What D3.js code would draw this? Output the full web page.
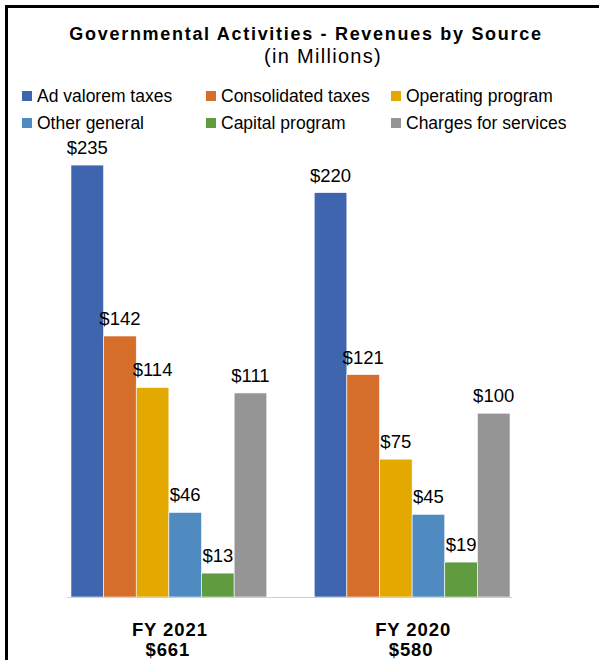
<!DOCTYPE html>
<html>
<head>
<meta charset="utf-8">
<script src="https://cdn.jsdelivr.net/npm/d3@7"></script>
<style>
  body { margin: 0; background: #fff; }
  svg { display: block; font-family: "Liberation Sans", Arial, sans-serif; }
</style>
</head>
<body>
<div id="chart"></div>
<script>
// data
let years = ["FY 2021", "FY 2020"];
let totals = ["$661", "$580"];
let sources = ["Ad valorem taxes", "Consolidated taxes", "Operating program",
               "Other general", "Capital program", "Charges for services"];
let fy2021 = [235, 142, 114, 46, 13, 111];
let fy2020 = [220, 121, 75, 45, 19, 100];
let colors = ["#3F65AF", "#D56E2B", "#E4A900", "#4F8BC0", "#619B40", "#959595"];

let w = 599, h = 660;

let svg = d3.select("#chart").append("svg")
  .attr("width", w)
  .attr("height", h);

// frame (top + left line)
svg.append("path")
  .attr("d", "M6.5,660 L6.5,6.5 L599,6.5")
  .attr("fill", "none")
  .attr("stroke", "#000")
  .attr("stroke-width", 3);

// title
svg.append("text")
  .attr("x", 306).attr("y", 40)
  .attr("text-anchor", "middle")
  .style("font-size", "18px").style("font-weight", "bold")
  .style("letter-spacing", "1.7px")
  .text("Governmental Activities - Revenues by Source");
svg.append("text")
  .attr("x", 323).attr("y", 63)
  .attr("text-anchor", "middle")
  .style("font-size", "20px")
  .style("letter-spacing", "1.3px")
  .text("(in Millions)");

// legend
let legendX = [22, 206, 391];
let legendY = [96, 123];
let legend = svg.selectAll(".legend")
  .data(sources)
  .enter().append("g")
  .attr("class", "legend")
  .attr("transform", (d, i) => "translate(" + legendX[i % 3] + "," + legendY[Math.floor(i / 3)] + ")");
legend.append("rect")
  .attr("x", 0).attr("y", -5)
  .attr("width", 10).attr("height", 10)
  .attr("fill", (d, i) => colors[i]);
legend.append("text")
  .attr("x", 15).attr("y", 6)
  .style("font-size", "17.5px")
  .text(d => d);

// scales
let x0 = d3.scaleBand()
  .domain(years)
  .range([47.25, 533.75])
  .paddingInner(0.195)
  .paddingOuter(0.0975);

let x1 = d3.scaleBand()
  .domain(sources)
  .range([0, x0.bandwidth()]);

let y = d3.scaleLinear()
  .domain([0, 250])
  .range([597, 137.5]);

let table = years.map((yr, j) => ({
  year: yr,
  total: totals[j],
  values: (j == 0 ? fy2021 : fy2020).map((v, i) => ({ source: sources[i], value: v, color: colors[i] }))
}));

let groups = svg.selectAll(".group")
  .data(table)
  .enter().append("g")
  .attr("class", "group")
  .attr("transform", d => "translate(" + x0(d.year) + ",0)");

groups.selectAll("rect")
  .data(d => d.values)
  .enter().append("rect")
  .attr("x", d => x1(d.source))
  .attr("y", d => y(d.value))
  .attr("width", x1.bandwidth())
  .attr("height", d => y(0) - y(d.value))
  .attr("fill", d => d.color)
  .attr("stroke", "#fff")
  .attr("stroke-width", 0.6);

groups.selectAll(".val")
  .data(d => d.values)
  .enter().append("text")
  .attr("class", "val")
  .attr("x", d => x1(d.source) + x1.bandwidth() / 2)
  .attr("y", d => y(d.value) - 11)
  .attr("text-anchor", "middle")
  .style("font-size", "18.5px")
  .text(d => "$" + d.value);

// baseline
svg.append("line")
  .attr("x1", x0.range()[0] + 20).attr("x2", x0(years[1]) + x0.bandwidth() + 2)
  .attr("y1", y(0) + 0.5).attr("y2", y(0) + 0.5)
  .attr("stroke", "#d0d0d0")
  .attr("stroke-width", 1);

// category labels
groups.append("text")
  .attr("x", x0.bandwidth() / 2 + 1)
  .attr("y", 636)
  .attr("text-anchor", "middle")
  .style("font-size", "18.5px").style("font-weight", "bold")
  .style("letter-spacing", "0.9px")
  .text(d => d.year);
groups.append("text")
  .attr("x", x0.bandwidth() / 2 - 1)
  .attr("y", 656)
  .attr("text-anchor", "middle")
  .style("font-size", "18.5px").style("font-weight", "bold")
  .style("letter-spacing", "0.9px")
  .text(d => d.total);
</script>
</body>
</html>
